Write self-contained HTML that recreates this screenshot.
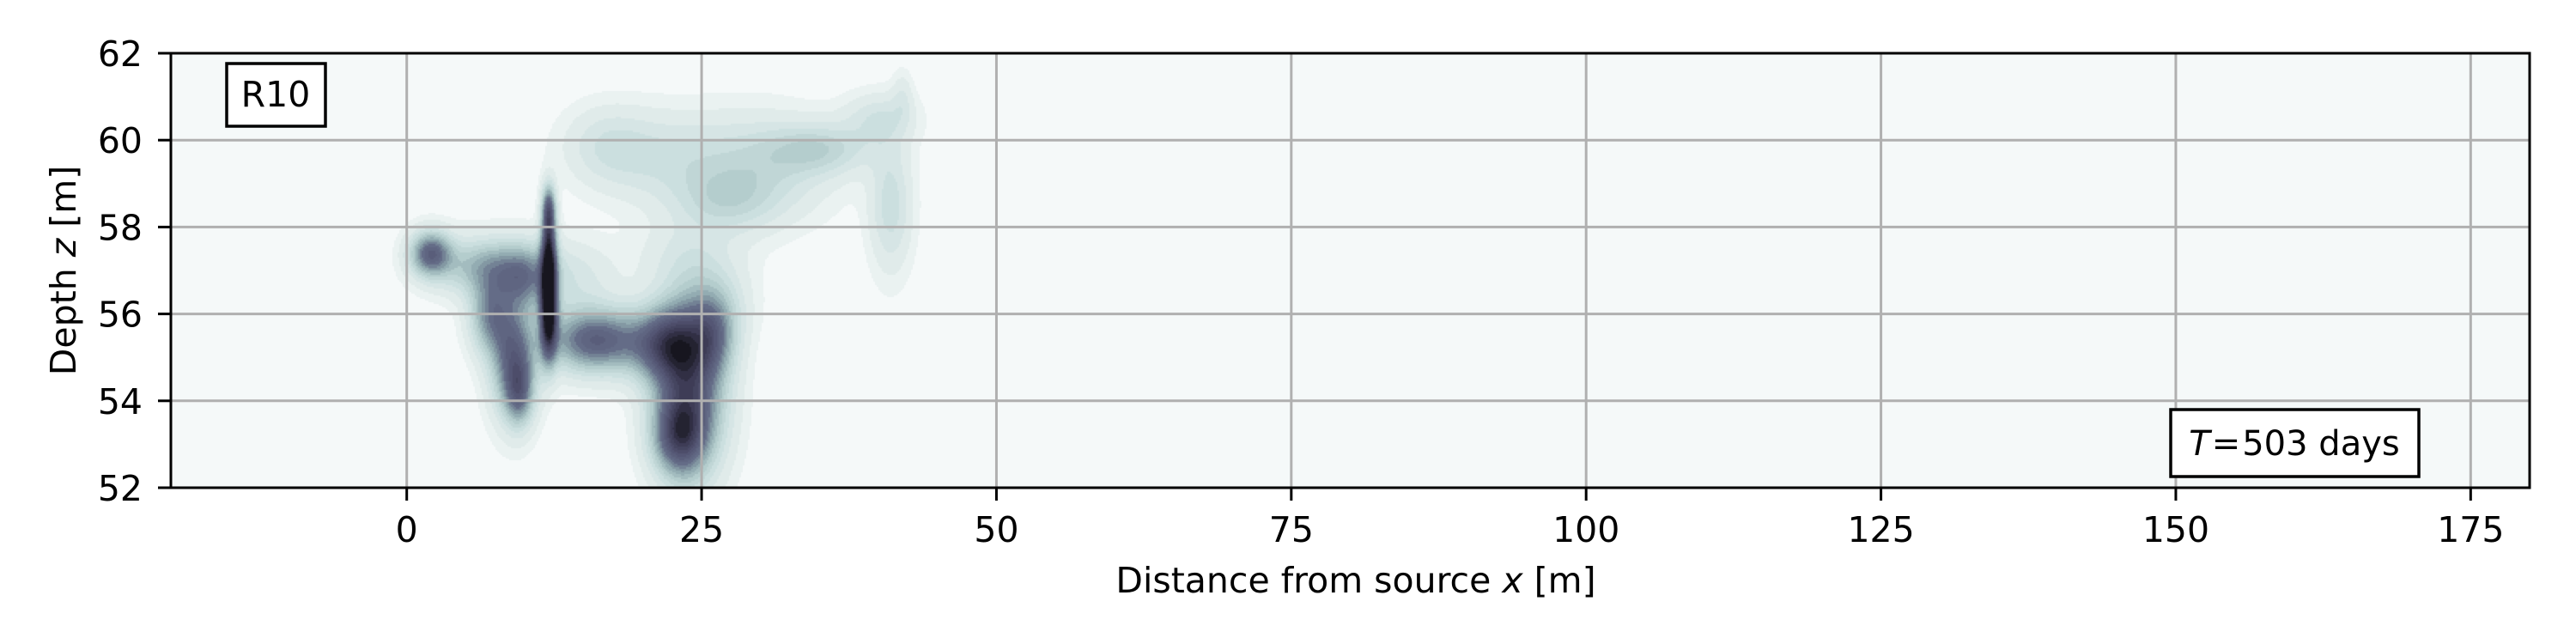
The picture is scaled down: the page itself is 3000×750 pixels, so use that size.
<!DOCTYPE html>
<html><head><meta charset="utf-8"><style>
body{margin:0;background:#fff;width:3000px;height:750px;overflow:hidden;position:relative;font-family:"DejaVu Sans","Liberation Sans",sans-serif}
#field{position:absolute;left:199px;top:62px}
svg{position:absolute;left:0;top:0}
</style></head><body>
<canvas id="field" width="2747" height="506"></canvas>
<svg id="chart" width="3000" height="750"></svg>
<script>
const xTicks=[0,25,50,75,100,125,150,175];
const yTicks=[52,54,56,58,60,62];
// plume components: x, z, sx, sz, amplitude
const plumeX=[12,12,12,2,7,10,7,9,9.5,16,22,24,23,26,17,22,30,35,41,40,42,27,24,26,14];
const plumeZ=[56,57.3,58.4,57.4,57.1,56.8,56,55,54.2,55.4,55.3,54.3,53.2,55.5,59.9,59.6,59.4,59.8,58.5,60.5,61,58.6,57.3,56.2,56.8];
const plumeSX=[0.5,0.45,0.4,1.2,3,1.5,1.2,1.3,0.8,2.8,2,2,1.5,1.3,2.5,4,4,3,1.2,2,0.6,3,3,2,2.5];
const plumeSZ=[0.7,0.7,0.4,0.35,0.45,0.5,0.6,0.9,0.5,0.5,0.6,1.3,0.6,0.6,0.6,0.7,0.8,0.4,1.0,0.4,0.4,0.5,0.6,0.6,0.6];
const plumeA=[0.9,0.8,0.5,0.55,0.35,0.3,0.4,0.55,0.35,0.6,0.55,0.65,0.5,0.3,0.12,0.14,0.17,0.2,0.18,0.14,0.08,0.16,0.1,0.15,0.12];
const X0=-20,X1=180,Z0=52,Z1=62,L=199,R=2946,T=62,B=568;
const sx=v=>L+(v-X0)/(X1-X0)*(R-L);
const sy=v=>B-(v-Z0)/(Z1-Z0)*(B-T);
const stops=[[0,[245,249,249]],[0.08,[228,237,236]],[0.18,[208,226,226]],[0.3,[180,205,205]],[0.42,[140,165,172]],[0.55,[100,108,135]],[0.7,[84,86,116]],[0.85,[62,60,86]],[1,[23,22,31]]];
function cmap(t){for(let i=1;i<stops.length;i++){if(t<=stops[i][0]){const a=stops[i-1],b=stops[i];const f=(t-a[0])/(b[0]-a[0]);return a[1].map((c,k)=>Math.round(c+(b[1][k]-c)*f));}}return stops[stops.length-1][1];}
const cv=document.getElementById('field');const ctx=cv.getContext('2d');
const W=cv.width,H=cv.height,st=2;
const img=ctx.createImageData(W,H);
for(let py=0;py<H;py+=st){const z=Z1-(py+0.5)/H*(Z1-Z0);
 for(let px=0;px<W;px+=st){const x=X0+(px+0.5)/W*(X1-X0);
  let v=0;for(let i=0;i<plumeX.length;i++){const dx=(x-plumeX[i])/plumeSX[i],dz=(z-plumeZ[i])/plumeSZ[i];const e=dx*dx+dz*dz;if(e<20)v+=plumeA[i]*Math.exp(-0.5*e);}
  v=Math.min(1,v);let lv=v<0.02?0:Math.ceil(v*20)/20;
  const c=cmap(lv);
  for(let yy=py;yy<Math.min(H,py+st);yy++)for(let xx=px;xx<Math.min(W,px+st);xx++){const o=(yy*W+xx)*4;img.data[o]=c[0];img.data[o+1]=c[1];img.data[o+2]=c[2];img.data[o+3]=255;}
 }}
ctx.putImageData(img,0,0);
const svg=document.getElementById('chart');const NS='http://www.w3.org/2000/svg';
function el(t,a,p){const e=document.createElementNS(NS,t);for(const k in a)e.setAttribute(k,a[k]);(p||svg).appendChild(e);return e;}
xTicks.forEach(t=>{const g=el('line',{x1:sx(t),x2:sx(t),y1:T,y2:B,stroke:'#b0b0b0','stroke-width':3});


const tk=el('line',{x1:sx(t),x2:sx(t),y1:B,y2:B+15,stroke:'#000','stroke-width':3});


const lb=el('text',{x:sx(t),y:631,'text-anchor':'middle','font-size':41,fill:'#000'});lb.textContent=t;

});
yTicks.forEach(t=>{const g=el('line',{x1:L,x2:R,y1:sy(t),y2:sy(t),stroke:'#b0b0b0','stroke-width':3});


const tk=el('line',{x1:L-15,x2:L,y1:sy(t),y2:sy(t),stroke:'#000','stroke-width':3});


const lb=el('text',{x:166,y:sy(t)+15,'text-anchor':'end','font-size':41,fill:'#000'});lb.textContent=t;

});
const fr=el('rect',{x:L,y:T,width:R-L,height:B-T,fill:'none',stroke:'#000','stroke-width':3});


</script>
<svg width="3000" height="750" style="position:absolute;left:0;top:0">
<g><rect x="264" y="74" width="115" height="73" fill="#fff" stroke="#000" stroke-width="3.5"/><text x="321" y="124" text-anchor="middle" font-size="41">R10</text></g>
<g><rect x="2528" y="477" width="289" height="78" fill="#fff" stroke="#000" stroke-width="3.5"/><text x="2672" y="530" text-anchor="middle" font-size="40"><tspan font-style="italic">T</tspan><tspan dx="2">=</tspan><tspan dx="2">503 days</tspan></text></g>
<text x="1579" y="690" text-anchor="middle" font-size="41">Distance from source <tspan font-style="italic">x</tspan> [m]</text>
<text transform="translate(88,315) rotate(-90)" text-anchor="middle" font-size="41">Depth <tspan font-style="italic">z</tspan> [m]</text>
</svg>
</body></html>
